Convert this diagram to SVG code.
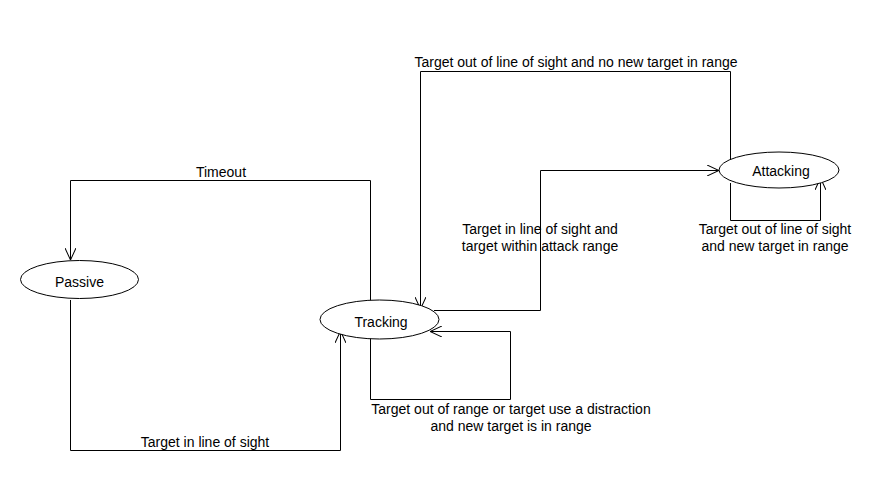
<svg xmlns="http://www.w3.org/2000/svg" width="892" height="490" viewBox="0 0 892 490">
<style>
.n{fill:#fff;stroke:#000;stroke-width:1}
.e{fill:none;stroke:#000;stroke-width:1}
text{font-family:"Liberation Sans",Arial,sans-serif;font-size:14px;fill:#000}
.c{text-anchor:middle}
</style>
<defs>
<marker id="a" viewBox="0 0 10 10" refX="10" refY="5" markerWidth="12" markerHeight="11" markerUnits="userSpaceOnUse" orient="auto" preserveAspectRatio="none">
<path d="M0,0 L10,5 L0,10" fill="none" stroke="#000" stroke-width="0.9"/>
</marker>
</defs>
<rect width="892" height="490" fill="#fff"/>
<g id="connectors">
<path class="e" d="M370.5,301 V180.5 H70.5 V260" marker-end="url(#a)"/>
<path class="e" d="M70.5,300 V450.5 H340.5 V331" marker-end="url(#a)"/>
<path class="e" d="M370.5,338 V399.5 H510.5 V331.5 H430" marker-end="url(#a)"/>
<path class="e" d="M730.5,160 V71.5 H420.5 V309" marker-end="url(#a)"/>
<path class="e" d="M434,310.5 H540.5 V170.5 H719" marker-end="url(#a)"/>
<path class="e" d="M730.5,183 V220.5 H820.5 V178" marker-end="url(#a)"/>
<text class="c" x="221" y="177">Timeout</text>
<text class="c" x="205" y="447">Target in line of sight</text>
<text class="c" x="576" y="67">Target out of line of sight and no new target in range</text>
<text class="c" x="511" y="414">Target out of range or target use a distraction</text>
<text class="c" x="511" y="431">and new target is in range</text>
<text class="c" x="775" y="234">Target out of line of sight</text>
<text class="c" x="775" y="251">and new target in range</text>
<text class="c" x="540" y="234">Target in line of sight and</text>
<text class="c" x="540" y="251">target within attack range</text>
</g>
<g id="passive"><ellipse class="n" cx="79.5" cy="279.5" rx="59" ry="19"/><text class="c" x="79.5" y="287">Passive</text></g>
<g id="tracking"><ellipse class="n" cx="379.5" cy="319.5" rx="59.5" ry="19.5"/><text class="c" x="381" y="327">Tracking</text></g>
<g id="attacking"><ellipse class="n" cx="779" cy="170" rx="60" ry="18"/><text class="c" x="781" y="176">Attacking</text></g>
</svg>
